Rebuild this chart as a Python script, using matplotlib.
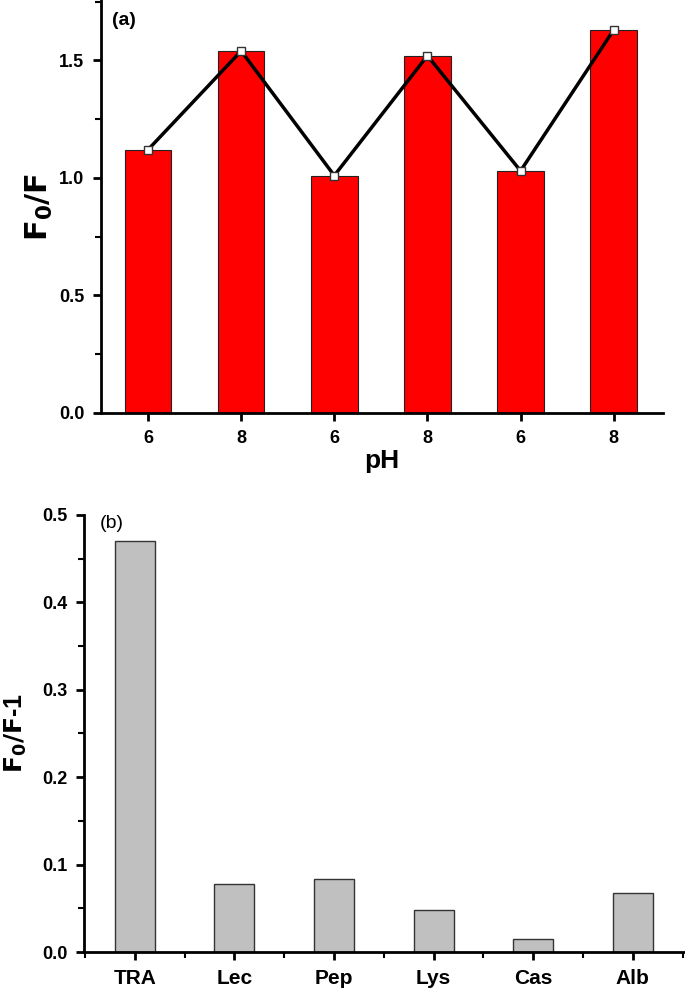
import matplotlib
matplotlib.use("Agg")
import matplotlib.pyplot as plt
from matplotlib.ticker import MultipleLocator

plt.rcParams['font.family'] = ['Liberation Sans', 'DejaVu Sans']

# panel (a) data
ph_labels = ['6', '8', '6', '8', '6', '8']
ratio_a = [1.12, 1.54, 1.01, 1.52, 1.03, 1.63]

# panel (b) data
proteins = ['TRA', 'Lec', 'Pep', 'Lys', 'Cas', 'Alb']
ratio_b = [0.47, 0.078, 0.084, 0.048, 0.015, 0.067]

fig = plt.figure(figsize=(6.85, 9.97), dpi=100)

# ---- panel (a)
ax1 = fig.add_axes([0.1474, 0.5858, 0.8206, 0.4142])
xa = range(len(ratio_a))
ax1.bar(xa, ratio_a, width=0.5, color='#ff0000', edgecolor='#222222', linewidth=0.8, zorder=2)
ax1.plot(xa, ratio_a, color='black', linewidth=2.5, marker='s', markersize=6,
         markerfacecolor='white', markeredgecolor='#333333', markeredgewidth=1, zorder=3)
ax1.set_xlim(-0.505, 5.53)
ax1.set_ylim(0, 1.757)
ax1.set_xticks(list(xa))
ax1.set_xticklabels(ph_labels)
ax1.yaxis.set_major_locator(MultipleLocator(0.5))
ax1.yaxis.set_minor_locator(MultipleLocator(0.25))
ax1.set_xlabel('pH', fontsize=19, fontweight='bold', labelpad=2)
ax1.set_ylabel(r'$\mathbf{F_0/F}$', fontsize=22, labelpad=3)
ax1.text(0.02, 0.972, '(a)', transform=ax1.transAxes, fontsize=14, fontweight='bold', va='top')

# ---- panel (b)
ax2 = fig.add_axes([0.1226, 0.0451, 0.877, 0.4384])
xb = range(len(ratio_b))
ax2.bar(xb, ratio_b, width=0.4, color='#c0c0c0', edgecolor='#333333', linewidth=1.0, zorder=2)
ax2.set_xlim(-0.51, 5.52)
ax2.set_ylim(0, 0.5)
ax2.set_xticks(list(xb))
ax2.set_xticklabels(proteins)
ax2.xaxis.set_minor_locator(MultipleLocator(0.5))
ax2.yaxis.set_major_locator(MultipleLocator(0.1))
ax2.yaxis.set_minor_locator(MultipleLocator(0.05))
ax2.set_ylabel(r'$\mathbf{F_0/F}$-1', fontsize=18, fontweight='bold', labelpad=9)
ax2.text(0.027, 1.0, '(b)', transform=ax2.transAxes, fontsize=14, va='top')

for ax in (ax1, ax2):
    ax.spines['top'].set_visible(False)
    ax.spines['right'].set_visible(False)
    ax.spines['left'].set_linewidth(2)
    ax.spines['bottom'].set_linewidth(2)
    ax.tick_params(which='major', direction='out', length=6, width=2, labelsize=13, pad=6)
    ax.tick_params(which='minor', direction='out', length=4, width=1.5)
    for lab in ax.get_xticklabels() + ax.get_yticklabels():
        lab.set_fontweight('bold')

ax2.tick_params(axis='x', which='major', labelsize=15)
for lab in ax2.get_xticklabels():
    lab.set_fontweight('bold')

fig.savefig('out.png', dpi=100)
